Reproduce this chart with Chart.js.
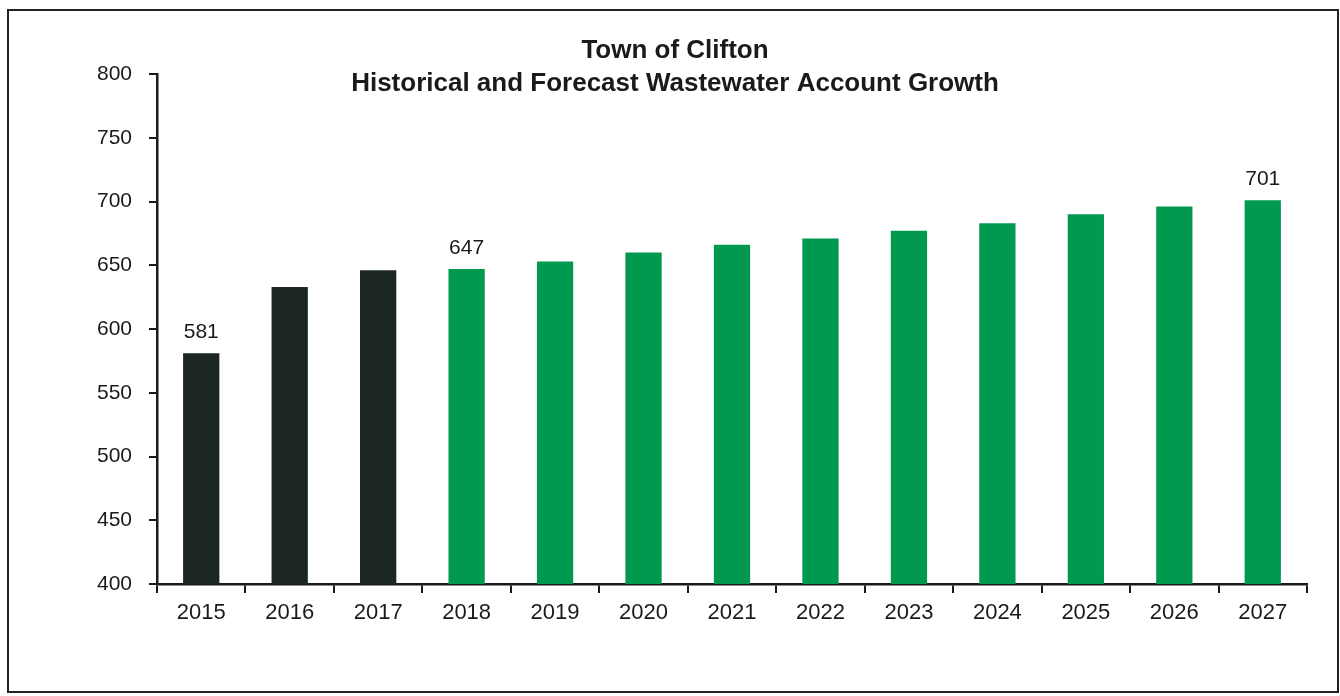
<!DOCTYPE html>
<html>
<head>
<meta charset="utf-8">
<script src="https://cdn.jsdelivr.net/npm/chart.js@4/dist/chart.umd.min.js"></script>
<style>
    html, body { margin: 0; padding: 0; background: #fff; }
    #wrap { position: relative; width: 1340px; height: 696px; }
</style>
</head>
<body>
<div id="wrap"><canvas id="chart" width="1340" height="696"></canvas></div>
<script>
// Data
const years = ['2015', '2016', '2017', '2018', '2019', '2020', '2021', '2022', '2023', '2024', '2025', '2026', '2027'];
const historical = [581, 633, 646];
const forecast = [647, 653, 660, 666, 671, 677, 683, 690, 696, 701];
const labelledYears = ['2015', '2018', '2027'];
const titleLines = ['Town of Clifton', 'Historical and Forecast Wastewater Account Growth'];

const FONT = "'Liberation Sans', Arial, sans-serif";
const INK = '#1a1a1a';

// Pad each series to the full year list
const historicalData = years.map((y, i) => i < historical.length ? historical[i] : null);
const forecastData = years.map((y, i) => i >= historical.length ? forecast[i - historical.length] : null);

// Frame, title and value labels
const decorPlugin =
{
    id: 'decor',

    afterDraw(chart)
    {
        const ctx = chart.ctx;
        ctx.save();

        // Outer frame
        ctx.strokeStyle = '#222';
        ctx.lineWidth = 2;
        ctx.strokeRect(8, 10, 1330, 682);

        // Title
        ctx.fillStyle = INK;
        ctx.textAlign = 'center';
        ctx.textBaseline = 'middle';
        ctx.font = 'bold 26px ' + FONT;
        ctx.fillText(titleLines[0], 675, 51);
        ctx.fillText(titleLines[1], 675, 84);

        // Value labels above selected bars
        ctx.font = '21px ' + FONT;
        ctx.textBaseline = 'alphabetic';
        chart.data.datasets.forEach((ds, di) =>
        {
            const meta = chart.getDatasetMeta(di);
            meta.data.forEach((bar, i) =>
            {
                if (ds.data[i] == null || !labelledYears.includes(years[i])) return;
                ctx.fillText(String(ds.data[i]), bar.x, bar.y - 15);
            });
        });

        ctx.restore();
    }
};

new Chart(document.getElementById('chart'),
{
    type: 'bar',

    data:
    {
        labels: years,

        datasets:
        [
            {
                label: 'Historical',
                data: historicalData,
                backgroundColor: '#1d2722',
                barPercentage: 0.41,
                categoryPercentage: 1
            },
            {
                label: 'Forecast',
                data: forecastData,
                backgroundColor: '#00994f',
                barPercentage: 0.41,
                categoryPercentage: 1
            }
        ]
    },

    options:
    {
        responsive: false,
        animation: false,
        devicePixelRatio: 1,

        layout:
        {
            padding: { top: 74, right: 33, bottom: 62, left: 0 }
        },

        datasets:
        {
            bar: { grouped: false }
        },

        plugins:
        {
            legend: { display: false },
            title: { display: false },
            tooltip: { enabled: false }
        },

        scales:
        {
            x:
            {
                grid:
                {
                    display: true,
                    offset: true,
                    drawOnChartArea: false,
                    drawTicks: true,
                    tickLength: 9,
                    color: INK,
                    lineWidth: 2
                },
                border: { display: true, color: INK, width: 2.5 },
                ticks:
                {
                    color: INK,
                    padding: 7,
                    font: { family: FONT, size: 22 }
                },
                afterFit: (scale) => { scale.height = 50; }
            },

            y:
            {
                min: 400,
                max: 800,
                grid:
                {
                    display: true,
                    drawOnChartArea: false,
                    drawTicks: true,
                    tickLength: 8,
                    color: INK,
                    lineWidth: 2
                },
                border: { display: true, color: INK, width: 2.5 },
                ticks:
                {
                    stepSize: 50,
                    color: INK,
                    padding: 17,
                    font: { family: FONT, size: 21 }
                },
                afterFit: (scale) => { scale.width = 157; }
            }
        }
    },

    plugins: [decorPlugin]
});
</script>
</body>
</html>
